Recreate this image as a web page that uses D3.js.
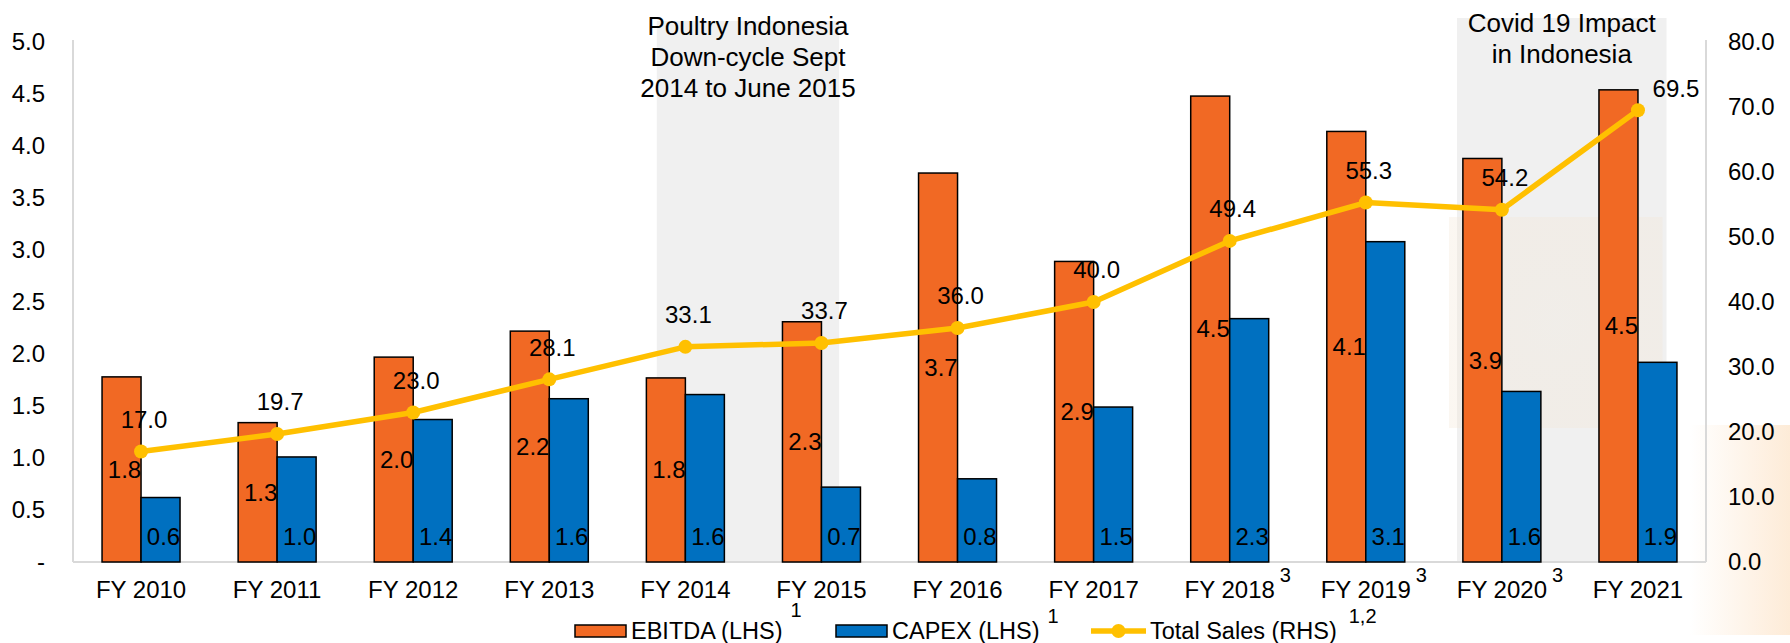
<!DOCTYPE html>
<html lang="en">
<head>
<meta charset="UTF-8">
<title>EBITDA, CAPEX and Total Sales</title>
<script src="https://cdn.jsdelivr.net/npm/d3@7"></script>
<style>
  body { margin: 0; background: #fff; }
  svg { display: block; font-family: "Liberation Sans", Arial, sans-serif; }
</style>
</head>
<body>
<div id="viz"></div>
<script>
// data
var categories = ["FY 2010", "FY 2011", "FY 2012", "FY 2013", "FY 2014", "FY 2015",
                  "FY 2016", "FY 2017", "FY 2018", "FY 2019", "FY 2020", "FY 2021"];
var categoryNotes = ["", "", "", "", "", "", "", "", "3", "3", "3", ""];
var ebitda = [1.78, 1.34, 1.97, 2.22, 1.77, 2.31, 3.74, 2.89, 4.48, 4.14, 3.88, 4.54];
var capex  = [0.62, 1.01, 1.37, 1.57, 1.61, 0.72, 0.80, 1.49, 2.34, 3.08, 1.64, 1.92];
var sales  = [17.0, 19.7, 23.0, 28.1, 33.1, 33.7, 36.0, 40.0, 49.4, 55.3, 54.2, 69.5];
var leftTicks  = [0, 0.5, 1, 1.5, 2, 2.5, 3, 3.5, 4, 4.5, 5];
var rightTicks = [0, 10, 20, 30, 40, 50, 60, 70, 80];
var salesLabelSide = ["top", "top", "top", "top", "top", "top", "top", "top", "top", "top", "top", "right"];
var shades = [
  { from: "FY 2014", to: "FY 2015", lines: ["Poultry Indonesia", "Down-cycle Sept", "2014 to June 2015"] },
  { from: "FY 2020", to: "FY 2021", lines: ["Covid 19 Impact", "in Indonesia"] }
];
var legendItems = [
  { name: "EBITDA (LHS)", note: "1", type: "bar", color: "#F16924" },
  { name: "CAPEX (LHS)", note: "1", type: "bar", color: "#0070C0" },
  { name: "Total Sales (RHS)", note: "1,2", type: "line", color: "#FFC000" }
];

var W = 1790, H = 643;
var plotL = 73, plotR = 1706, plotT = 42, plotB = 562;
var orange = "#F16924", blue = "#0070C0", gold = "#FFC000", axisGray = "#d9d9d9";
var fs = 24;

var svg = d3.select("#viz").append("svg")
    .attr("width", W).attr("height", H);

var defs = svg.append("defs");
var g1 = defs.append("linearGradient").attr("id", "peach").attr("x1", 0).attr("x2", 1).attr("y1", 0).attr("y2", 0);
g1.append("stop").attr("offset", 0).attr("stop-color", "#fde9d3").attr("stop-opacity", 0);
g1.append("stop").attr("offset", 1).attr("stop-color", "#fde9d3").attr("stop-opacity", 0.9);
var g2 = defs.append("radialGradient").attr("id", "beige");
g2.append("stop").attr("offset", 0).attr("stop-color", "#f1ebe2").attr("stop-opacity", 0.9);
g2.append("stop").attr("offset", 1).attr("stop-color", "#f3e6d6").attr("stop-opacity", 0.6);

svg.append("rect").attr("width", W).attr("height", H).attr("fill", "#fff");
// faint background photo showing through at bottom right
svg.append("rect").attr("x", 1690).attr("y", 425).attr("width", 100).attr("height", 210)
    .attr("fill", "url(#peach)");

var x = d3.scaleBand().domain(categories).range([plotL, plotR]).paddingInner(0).paddingOuter(0);
var bw = x.bandwidth();
var xs = d3.scaleBand().domain(["ebitda", "capex"]).range([0, bw]).paddingInner(0).paddingOuter(0.745);
var yL = d3.scaleLinear().domain([0, 5]).range([plotB, plotT]);
var yR = d3.scaleLinear().domain([0, 80]).range([plotB, plotT]);

// shaded periods with titles
var shadeFrac = [[0.29, 0.63], [0.17, 0.71]];
var shadeTop = [21, 18];
shades.forEach(function(s, i){
    var x0 = x(s.from) + shadeFrac[i][0] * bw;
    var x1 = x(s.to) + shadeFrac[i][1] * bw;
    svg.append("rect").attr("x", x0).attr("y", shadeTop[i])
        .attr("width", x1 - x0).attr("height", plotB - shadeTop[i])
        .attr("fill", "#f0f0f0");
    if (i === 1) {
        svg.append("rect").attr("x", x0 - 8).attr("y", 217).attr("width", x1 - x0 + 4).attr("height", 211)
            .attr("fill", "url(#beige)").attr("opacity", 0.55);
    }
    var t = svg.append("text").attr("text-anchor", "middle").attr("font-size", 26).attr("fill", "#000");
    s.lines.forEach(function(l, j){
        t.append("tspan").attr("x", (x0 + x1) / 2).attr("y", shadeTop[i] + 5 + j * 31)
            .attr("dy", "0.35em").text(l);
    });
});

// plot frame
var frame = svg.append("g").attr("stroke", axisGray).attr("stroke-width", 2);
frame.append("line").attr("x1", plotL).attr("x2", plotL).attr("y1", plotT - 2).attr("y2", plotB);
frame.append("line").attr("x1", plotR).attr("x2", plotR).attr("y1", plotT - 2).attr("y2", plotB);
frame.append("line").attr("x1", plotL).attr("x2", plotR).attr("y1", plotB).attr("y2", plotB);

// left axis
var axL = svg.append("g").attr("transform", "translate(" + plotL + ",0)")
    .call(d3.axisLeft(yL).tickValues(leftTicks).tickSize(0).tickPadding(28)
        .tickFormat(function(d){ return d === 0 ? "-" : d3.format(".1f")(d); }));
axL.select(".domain").remove();
axL.selectAll("text").attr("font-size", fs).attr("font-family", "Liberation Sans, Arial, sans-serif").attr("fill", "#000");

// right axis
var axR = svg.append("g").attr("transform", "translate(" + plotR + ",0)")
    .call(d3.axisRight(yR).tickValues(rightTicks).tickSize(0).tickPadding(22).tickFormat(d3.format(".1f")));
axR.select(".domain").remove();
axR.selectAll("text").attr("font-size", fs).attr("font-family", "Liberation Sans, Arial, sans-serif").attr("fill", "#000");

// x labels
svg.append("g").selectAll("text").data(categories).enter().append("text")
    .attr("x", function(d){ return x(d) + bw / 2; })
    .attr("y", 590).attr("dy", "0.35em")
    .attr("text-anchor", "middle").attr("font-size", fs).attr("fill", "#000")
    .text(function(d){ return d; });
svg.append("g").selectAll("text").data(categories).enter()
    .filter(function(d, i){ return categoryNotes[i] !== ""; })
    .append("text")
    .attr("x", function(d){ return x(d) + bw / 2 + 50; })
    .attr("y", 575).attr("dy", "0.35em")
    .attr("font-size", 20).attr("fill", "#000")
    .text(function(d){ return categoryNotes[categories.indexOf(d)]; });

// bars
var bars = svg.append("g");
bars.selectAll("rect.e").data(ebitda).enter().append("rect").attr("class", "e")
    .attr("x", function(d, i){ return x(categories[i]) + xs("ebitda"); })
    .attr("y", function(d){ return yL(d); })
    .attr("width", xs.bandwidth())
    .attr("height", function(d){ return yL(0) - yL(d); })
    .attr("fill", orange).attr("stroke", "#000").attr("stroke-width", 1.5);
bars.selectAll("rect.c").data(capex).enter().append("rect").attr("class", "c")
    .attr("x", function(d, i){ return x(categories[i]) + xs("capex"); })
    .attr("y", function(d){ return yL(d); })
    .attr("width", xs.bandwidth())
    .attr("height", function(d){ return yL(0) - yL(d); })
    .attr("fill", blue).attr("stroke", "#000").attr("stroke-width", 1.5);

// sales line
var cx = function(d, i){ return x(categories[i]) + bw / 2; };
var line = d3.line().x(cx).y(function(d){ return yR(d); });
svg.append("path").datum(sales).attr("d", line)
    .attr("fill", "none").attr("stroke", gold).attr("stroke-width", 5.5).attr("stroke-linejoin", "round");
svg.append("g").selectAll("circle").data(sales).enter().append("circle")
    .attr("cx", cx).attr("cy", function(d){ return yR(d); })
    .attr("r", 7).attr("fill", gold);

// data labels
var lbl = svg.append("g").attr("font-size", fs).attr("fill", "#000").attr("text-anchor", "middle");
var f1 = d3.format(".1f");
lbl.selectAll("text.e").data(ebitda).enter().append("text").attr("class", "e")
    .attr("x", function(d, i){ return x(categories[i]) + xs("ebitda") + xs.bandwidth() / 2 + 3; })
    .attr("y", function(d){ return (yL(d) + yL(0)) / 2; }).attr("dy", "0.35em")
    .text(function(d){ return f1(d); });
lbl.selectAll("text.c").data(capex).enter().append("text").attr("class", "c")
    .attr("x", function(d, i){ return x(categories[i]) + xs("capex") + xs.bandwidth() / 2 + 3; })
    .attr("y", yL(0) - 25).attr("dy", "0.35em")
    .text(function(d){ return f1(d); });
lbl.selectAll("text.s").data(sales).enter().append("text").attr("class", "s")
    .attr("x", function(d, i){ return cx(d, i) + (salesLabelSide[i] === "right" ? 38 : 3); })
    .attr("y", function(d, i){ return yR(d) + (salesLabelSide[i] === "right" ? -22 : -32); })
    .attr("dy", "0.35em")
    .text(function(d){ return f1(d); });

// legend
var legendX = [575, 836, 1091];
var leg = svg.append("g");
legendItems.forEach(function(it, i){
    var lx = legendX[i], ly = 631;
    var textX;
    if (it.type === "bar") {
        leg.append("rect").attr("x", lx).attr("y", ly - 6).attr("width", 51).attr("height", 12)
            .attr("fill", it.color).attr("stroke", "#000").attr("stroke-width", 1.5);
        textX = lx + 56;
    } else {
        leg.append("line").attr("x1", lx).attr("x2", lx + 55).attr("y1", ly).attr("y2", ly)
            .attr("stroke", it.color).attr("stroke-width", 5.5);
        leg.append("circle").attr("cx", lx + 27.5).attr("cy", ly).attr("r", 7).attr("fill", it.color);
        textX = lx + 59;
    }
    var t = leg.append("text").attr("x", textX).attr("y", ly).attr("dy", "0.35em")
        .attr("font-size", 23.5).attr("fill", "#000").text(it.name);
    var tw = t.node().getComputedTextLength();
    leg.append("text").attr("x", textX + tw + (i === 2 ? 12 : 8)).attr("y", i === 0 ? 610 : 616)
        .attr("dy", "0.35em").attr("font-size", 20).attr("fill", "#000").text(it.note);
});
</script>
</body>
</html>
